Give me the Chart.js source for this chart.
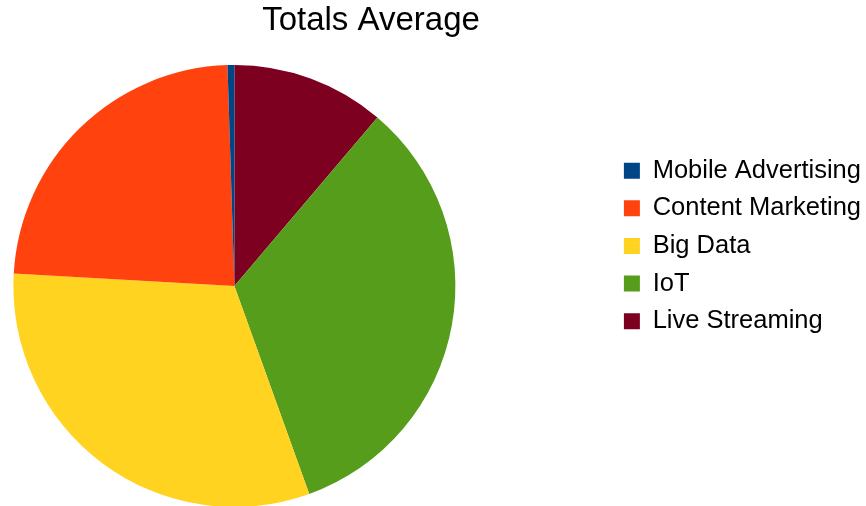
<!DOCTYPE html>
<html>
<head>
<meta charset="utf-8">
<title>Totals Average</title>
<script src="https://cdn.jsdelivr.net/npm/chart.js@4.4.1/dist/chart.umd.min.js"></script>
<style>
  html, body { margin: 0; padding: 0; background: #fff; overflow: hidden; }
  #frame { position: relative; width: 866px; height: 506px; overflow: hidden; }
  /* the canvas is wider than the frame so the pie can sit well left of the legend */
  #plot { position: absolute; left: -143px; top: 0; width: 1028px; height: 506px; }
</style>
</head>
<body>
<div id="frame"><div id="plot"><canvas id="totals"></canvas></div></div>
<script>
// legend order, as in the spreadsheet
const categories = ["Mobile Advertising", "Content Marketing", "Big Data", "IoT", "Live Streaming"];
const averages = [0.5, 23.6, 31.4, 33.3, 11.2];
const colors = ["#004586", "#ff420e", "#ffd320", "#579d1c", "#7e0021"];

// the slices run counter-clockwise from 12 o'clock, Chart.js runs clockwise:
// feed them reversed and flip the legend back
const labels = categories.slice().reverse();
const values = averages.slice().reverse();
const sliceColors = colors.slice().reverse();

Chart.defaults.font.family = "'Liberation Sans', Arial, sans-serif";
Chart.defaults.color = "#000";

// a bit of extra room after the legend so the title lands where it should
const legendGap = {
  id: "legendGap",
  beforeInit(chart) {
    const fit = chart.legend.fit;
    chart.legend.fit = function () {
      fit.call(this);
      this.width += 14;
    };
  }
};

new Chart(document.getElementById("totals"), {
  type: "pie",
  data: {
    labels: labels,
    datasets: [{
      data: values,
      backgroundColor: sliceColors,
      borderWidth: 0,
      radius: 221,
      clip: false
    }]
  },
  options: {
    responsive: true,
    maintainAspectRatio: false,
    animation: false,
    events: [],
    layout: { padding: { top: 0, bottom: 14.1, left: 0, right: 0 } },
    plugins: {
      title: {
        display: true,
        text: "Totals Average",
        color: "#000",
        font: { size: 33, weight: "normal" },
        padding: { top: 1, bottom: 39.5 }
      },
      legend: {
        position: "right",
        reverse: true,
        labels: {
          color: "#000",
          font: { size: 25.5 },
          boxWidth: 16,
          boxHeight: 16,
          padding: 12.1
        }
      },
      tooltip: { enabled: false }
    }
  },
  plugins: [legendGap]
});
</script>
</body>
</html>
